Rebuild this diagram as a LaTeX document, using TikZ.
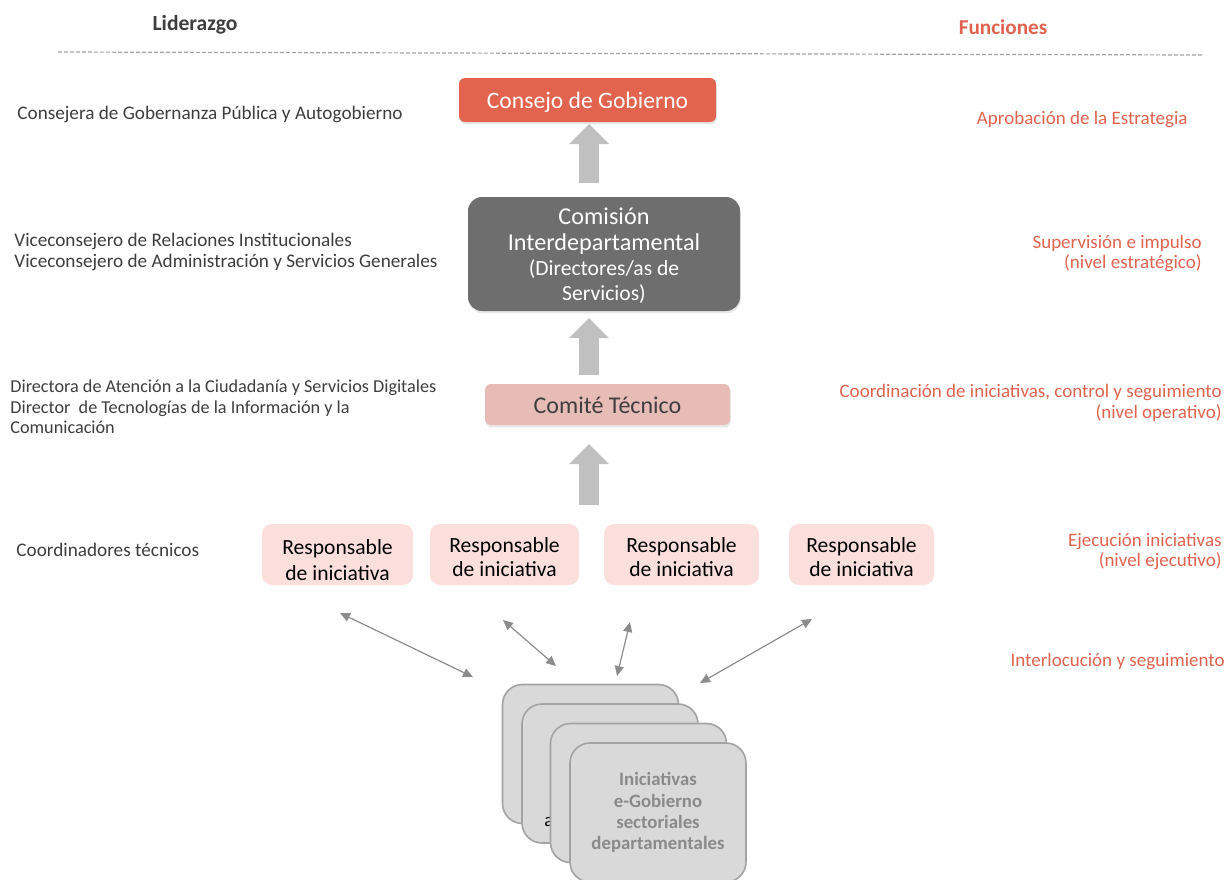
\documentclass[tikz,border=0pt]{standalone}
\usepackage{fontspec}
\setmainfont{Carlito}
\usetikzlibrary{arrows.meta,shadows}

\definecolor{coral}{HTML}{E2644F}
\definecolor{coraltext}{HTML}{E0634F}
\definecolor{darkbox}{HTML}{6E6E6E}
\definecolor{comitefill}{HTML}{E7BCB6}
\definecolor{respfill}{HTML}{FBDFDC}
\definecolor{arrgray}{HTML}{C0C0C0}
\definecolor{cardfill}{HTML}{D9D9D9}
\definecolor{cardline}{HTML}{A3A3A3}
\definecolor{cardtext}{HTML}{8A8A8A}
\definecolor{linkgray}{HTML}{8C8C8C}
\definecolor{bodytext}{HTML}{3E3E3E}

\tikzset{
	lead/.style={anchor=west, align=left, inner sep=0pt, text=bodytext, font=\fontsize{9.6}{10.3}\selectfont},
	func/.style={anchor=east, align=right, inner sep=0pt, text=coraltext, font=\fontsize{9.5}{10.3}\selectfont},
	softshadow/.style={drop shadow={opacity=0.18, shadow xshift=0.4pt, shadow yshift=-1.2pt}},
	respbox/.style={fill=respfill, rounded corners=5pt, minimum height=30.5pt, align=center, inner sep=0pt,
		font=\fontsize{10.8}{12}\selectfont},
	card/.style={fill=cardfill, draw=cardline, line width=0.8pt, rounded corners=10pt,
		minimum width=88pt, minimum height=69.5pt},
	uparr/.style={draw=arrgray, line width=10pt, -{Triangle[length=10pt, width=20pt, line width=0pt]}},
	link/.style={draw=linkgray, line width=0.6pt, {Triangle[length=5pt, width=4.5pt]}-{Triangle[length=5pt, width=4.5pt]}}
}
\newcommand{\lowtext}[2]{\raisebox{-#1}[\height][\depth]{\begin{tabular}{@{}c@{}}#2\end{tabular}}}

\begin{document}
\begin{tikzpicture}[x=0.5pt, y=-0.5pt]
	\useasboundingbox (0,0) rectangle (1227,879);

	% headers
	\node[inner sep=0pt, text=bodytext, font=\fontsize{10.8}{12}\selectfont\bfseries] (hlead) at (195,25) {Liderazgo};
	\node[inner sep=0pt, text=coraltext, font=\fontsize{10.6}{12}\selectfont\bfseries] (hfunc) at (1003,27) {Funciones};
	\coordinate (dashl) at (58,52);
	\coordinate (dashr) at (1202,55);
	\draw[color=cardline, line width=0.6pt, dash pattern=on 2pt off 1pt] (dashl) -- (dashr);

	% central chain
	\node[fill=coral, rounded corners=3pt, minimum width=128.5pt, minimum height=22pt, softshadow,
		text=white, font=\fontsize{11.8}{13}\selectfont] (consejo) at (587.5,100) {\lowtext{1.5pt}{Consejo de Gobierno}};
	\node[fill=darkbox, rounded corners=7pt, minimum width=136pt, minimum height=57pt, inner ysep=0pt, softshadow,
		text=white, font=\fontsize{12.1}{12.6}\selectfont] (comision) at (604,254)
		{\lowtext{1.8pt}{Comisión\\Interdepartamental\\{\fontsize{10.8}{11.5}\selectfont (Directores/as de}\\{\fontsize{10.8}{11.5}\selectfont Servicios)}}};
	\node[fill=comitefill, rounded corners=3pt, minimum width=122.5pt, minimum height=20.5pt, inner ysep=0pt, softshadow,
		text=bodytext, font=\fontsize{12}{13}\selectfont] (comite) at (607.5,404.5) {\lowtext{2pt}{Comité Técnico}};

	\coordinate (a1s) at (589,183);
	\coordinate (a1e) at (589,124);
	\coordinate (a2s) at (589,375);
	\coordinate (a2e) at (589,318);
	\coordinate (a3s) at (589,505);
	\coordinate (a3e) at (589,444);
	\draw[uparr] (a1s) -- (a1e);
	\draw[uparr] (a2s) -- (a2e);
	\draw[uparr] (a3s) -- (a3e);

	% responsables
	\node[respbox, minimum width=75.5pt] (resp1) at (337.5,554.5) {\lowtext{4pt}{Responsable\\[1pt]de iniciativa}};
	\node[respbox, minimum width=74.5pt] (resp2) at (504.5,554.5) {\lowtext{2.5pt}{Responsable\\de iniciativa}};
	\node[respbox, minimum width=77.5pt] (resp3) at (681.5,554.5) {\lowtext{2.5pt}{Responsable\\de iniciativa}};
	\node[respbox, minimum width=72.5pt] (resp4) at (861.5,554.5) {\lowtext{2.5pt}{Responsable\\de iniciativa}};

	% stacked cards
	\node[card] (card1) at (590.5,754) {};
	\node[card] (card2) at (610,773.5) {};
	\node[inner sep=0pt, font=\fontsize{9.5}{10}\selectfont] (cardhid) at (549,822) {a};
	\node[card] (card3) at (638.5,793) {};
	\node[card, align=center, text=cardtext, font=\fontsize{9.4}{10.6}\selectfont\bfseries] (card4) at (658,812.5)
		{Iniciativas\\e-Gobierno\\sectoriales\\departamentales};

	% interlocution links
	\coordinate (l1a) at (340,613);
	\coordinate (l1b) at (473,677);
	\coordinate (l2a) at (503,620);
	\coordinate (l2b) at (556,666);
	\coordinate (l3a) at (630,622);
	\coordinate (l3b) at (617,676);
	\coordinate (l4a) at (812,619);
	\coordinate (l4b) at (700,683);
	\draw[link] (l1a) -- (l1b);
	\draw[link] (l2a) -- (l2b);
	\draw[link] (l3a) -- (l3b);
	\draw[link] (l4a) -- (l4b);

	% leadership column
	\node[lead] (lid1) at (17,114) {Consejera de Gobernanza Pública y Autogobierno};
	\node[lead] (lid2) at (14,252) {Viceconsejero de Relaciones Institucionales\\Viceconsejero de Administración y Servicios Generales};
	\node[lead, font=\fontsize{9.1}{10.3}\selectfont] (lid3) at (10,407) {Directora de Atención a la Ciudadanía y Servicios Digitales\\Director\ \ de Tecnologías de la Información y la\\Comunicación};
	\node[lead] (lid4) at (16,550) {Coordinadores técnicos};

	% functions column
	\node[func] (fun1) at (1188,120) {Aprobación de la Estrategia};
	\node[func] (fun2) at (1202,253.5) {Supervisión e impulso\\(nivel estratégico)};
	\node[func] (fun3) at (1222,403) {Coordinación de iniciativas, control y seguimiento\\(nivel operativo)};
	\node[func] (fun4) at (1222,551.5) {Ejecución iniciativas\\(nivel ejecutivo)};
	\node[func] (fun5) at (1225,662) {Interlocución y seguimiento};
\end{tikzpicture}
\end{document}
